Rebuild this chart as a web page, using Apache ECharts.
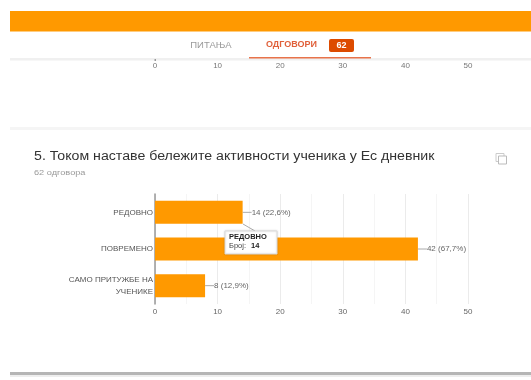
<!DOCTYPE html>
<html><head><meta charset="utf-8">
<style>html,body{margin:0;padding:0;background:#fff}#c{width:531px;height:380px}</style>
<script src="https://cdn.jsdelivr.net/npm/echarts@6/dist/echarts.min.js"></script>
</head><body><div id="c"></div>
<script>
const categories = ['РЕДОВНО', 'ПОВРЕМЕНО', 'САМО ПРИТУЖБЕ НА\nУЧЕНИКЕ'];
const counts = [14, 42, 8];
const percents = ['22,6%', '67,7%', '12,9%'];
const xTicks = { min: 0, max: 50, major: 10, minor: 5 };
const title = '5. Током наставе бележите активности ученика у Ес дневник';
const subtitle = '62 одговора';
const font = 'Arial, "Liberation Sans", sans-serif';
const chart = echarts.init(document.getElementById('c'), null, { renderer: 'canvas' });
const txt = (x, y, text, size, fill, weight, align, scaleX) => ({
  type: 'text', x, y, z: 30, scaleX: scaleX || 1,
  style: { text, font: `${weight || 'normal'} ${size}px ${font}`, fill, textAlign: align || 'left', textVerticalAlign: 'middle' }
});
const rect = (x, y, w, h, fill) => ({ type: 'rect', z: 1, shape: { x, y, width: w, height: h }, style: { fill } });
chart.setOption({
  animation: false,
  backgroundColor: '#fff',
  textStyle: { fontFamily: font },
  grid: [
    { left: 155, top: 194, width: 313, height: 110 },
    { left: 155, top: 58, width: 313, height: 1 }
  ],
  xAxis: [
    { gridIndex: 0, type: 'value', min: xTicks.min, max: xTicks.max, interval: xTicks.major,
      axisLine: { show: false }, axisTick: { show: false },
      axisLabel: { color: '#666', fontSize: 8, margin: 4 },
      splitLine: { lineStyle: { color: '#ebebeb', width: 1 } },
      minorTick: { show: false, splitNumber: 2 },
      minorSplitLine: { show: true, lineStyle: { color: '#f5f5f5', width: 1 } } },
    { gridIndex: 1, type: 'value', min: xTicks.min, max: xTicks.max, interval: xTicks.major,
      axisLine: { show: false }, axisTick: { show: false }, splitLine: { show: false },
      axisLabel: { color: '#777', fontSize: 8, margin: 3 } }
  ],
  yAxis: [
    { gridIndex: 0, type: 'category', inverse: true, data: categories,
      axisLine: { lineStyle: { color: '#999', width: 1.5 } }, axisTick: { show: false },
      axisLabel: { color: '#555', fontSize: 8, margin: 2, lineHeight: 12, align: 'right' } },
    { gridIndex: 1, type: 'category', data: [''], show: false }
  ],
  series: [{
    type: 'bar', xAxisIndex: 0, yAxisIndex: 0, data: counts, barWidth: 23,
    itemStyle: { color: '#ff9900' },
    label: { show: true, position: 'right', distance: 9, color: '#666', fontSize: 8,
      formatter: p => `${counts[p.dataIndex]} (${percents[p.dataIndex]})` },
    labelLine: { show: true, lineStyle: { color: '#aaa', width: 1 } },
    labelLayout: { dx: 0 }
  }],
  graphic: { elements: [
    rect(10, 11, 521, 20.5, '#ff9900'),
    rect(10, 58, 521, 2.5, '#f0f0f0'),
    rect(249, 57, 122, 1.5, '#e8734a'),
    rect(154.5, 59, 1.5, 2, '#999'),
    txt(211, 45, 'ПИТАЊА', 9.5, '#9a9a9a', 'normal', 'center'),
    txt(291.5, 45, 'ОДГОВОРИ', 9, '#e0603a', 'bold', 'center'),
    { type: 'rect', z: 15, shape: { x: 329, y: 39, width: 25, height: 13, r: 2 }, style: { fill: '#dd4b00' } },
    txt(341.5, 45.5, '62', 9, '#fff', 'bold', 'center'),
    rect(10, 127, 521, 3, '#f5f5f5'),
    txt(34, 157, title, 12, '#333', 'normal', 'left', 1.18),
    txt(34, 173, subtitle, 8, '#9a9a9a', 'normal', 'left', 1.15),
    { type: 'rect', z: 20, shape: { x: 496, y: 153.5, width: 8, height: 8 }, style: { fill: 'none', stroke: '#ccc', lineWidth: 1 } },
    { type: 'rect', z: 20, shape: { x: 498.5, y: 156, width: 8, height: 8 }, style: { fill: '#fff', stroke: '#bbb', lineWidth: 1 } },
    { type: 'line', z: 25, shape: { x1: 243, y1: 224, x2: 255, y2: 231 }, style: { stroke: '#aaa', lineWidth: 1 } },
    { type: 'rect', z: 25, shape: { x: 225, y: 231, width: 52, height: 23 }, style: { fill: '#fff', stroke: '#ddd', lineWidth: 1, shadowBlur: 2, shadowColor: 'rgba(0,0,0,.15)' } },
    txt(229, 237, 'РЕДОВНО', 7.5, '#222', 'bold'),
    txt(229, 246, 'Број:', 7.5, '#444'),
    txt(251, 246, '14', 7.5, '#222', 'bold'),
    rect(10, 372, 521, 3, '#b5b5b5'),
    rect(10, 375, 521, 2, '#eeeeee')
  ] }
});
</script></body></html>
